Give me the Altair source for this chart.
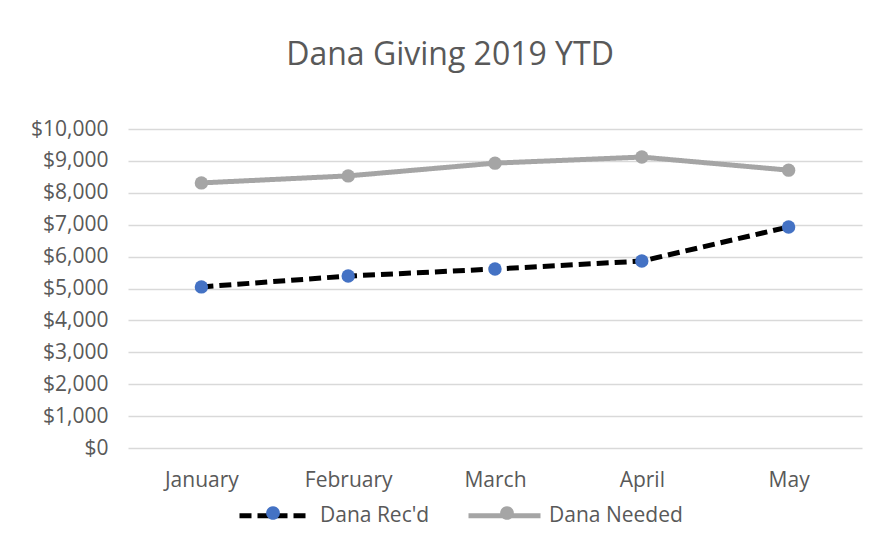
import altair as alt
import pandas as pd

months = ["January", "February", "March", "April", "May"]
recd = [5050, 5390, 5610, 5860, 6930]
needed = [8310, 8530, 8930, 9120, 8710]
series = ["Dana Rec'd", "Dana Needed"]

rows = []
for m, v in zip(months, recd):
    rows.append({"month": m, "value": v, "series": series[0], "marker": series[0]})
for m, v in zip(months, needed):
    rows.append({"month": m, "value": v, "series": series[1], "marker": series[1]})
df = pd.DataFrame(rows)

FONT = "Open Sans"
TXT = "#595959"
LS = 21

x = alt.X("month:N", sort=months, title=None,
          scale=alt.Scale(paddingInner=0, paddingOuter=0.5),
          axis=alt.Axis(labelAngle=0, ticks=False, domain=False, grid=False,
                        labelFontSize=LS, labelColor=TXT, labelFont=FONT, labelPadding=21))
y = alt.Y("value:Q", title=None,
          scale=alt.Scale(domain=[0, 10000]),
          axis=alt.Axis(values=list(range(0, 10001, 1000)), format="$,.0f",
                        ticks=False, domain=False, gridColor="#D9D9D9", gridWidth=1.3,
                        labelFontSize=LS, labelColor=TXT, labelFont=FONT, labelPadding=20))

stroke_scale = alt.Scale(domain=series, range=["#000000", "#A5A5A5"])
fill_scale = alt.Scale(range=["#4472C4", "#A5A5A5"])
dash_scale = alt.Scale(domain=series, range=[[12, 6], [1, 0]])

common = dict(title=None, orient="none", direction="horizontal",
              legendX=109, legendY=348, labelFontSize=LS, labelFont=FONT,
              symbolSize=5184, labelOffset=6)

line_legend = alt.Legend(labelColor=TXT, symbolType="M-1,0H1",
                         symbolStrokeWidth=5, columnPadding=28, **common)
# circles drawn over the line symbols; label width of "Dana Rec'd" folded into padding
dot_legend = alt.Legend(labelColor=TXT, labelExpr="''",
                        symbolType="M0.19,0A0.19,0.19 0 1,1 -0.19,0A0.19,0.19 0 1,1 0.19,0Z",
                        symbolStrokeWidth=0, columnPadding=156, **common)

lines = alt.Chart(df).mark_line(strokeWidth=5).encode(
    x=x, y=y,
    stroke=alt.Stroke("series:N", scale=stroke_scale, legend=line_legend),
    strokeDash=alt.StrokeDash("series:N", scale=dash_scale, legend=line_legend),
)
points = alt.Chart(df).mark_point(filled=True, size=180, opacity=1).encode(
    x=x, y=y,
    fill=alt.Fill("marker:N", sort=series, scale=fill_scale, legend=dot_legend),
)

chart = alt.layer(lines, points).properties(
    width=734, height=319,
    background="white",
    title=alt.TitleParams("Dana Giving 2019 YTD", fontSize=32, font=FONT, color=TXT,
                          fontWeight="normal", offset=46, dx=-45),
    autosize=alt.AutoSizeParams(type="none"),
    padding={"left": 120, "top": 121, "right": 8, "bottom": 100},
).configure_view(stroke=None)

chart.save("out.html", embed_options={"renderer": "svg", "actions": False})
